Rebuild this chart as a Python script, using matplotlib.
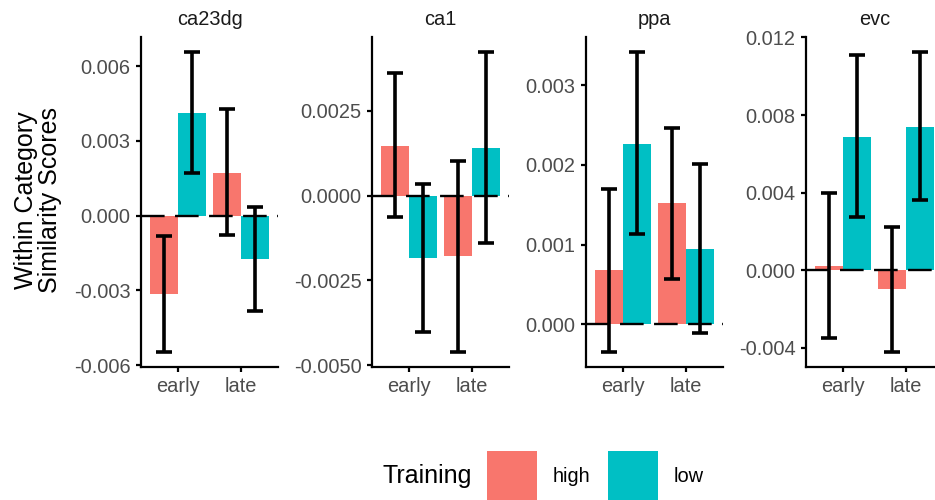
import matplotlib
matplotlib.use('Agg')
import matplotlib.pyplot as plt
from matplotlib.patches import Patch
import numpy as np

plt.rcParams['font.family'] = ['Liberation Sans', 'DejaVu Sans']
plt.rcParams['lines.scale_dashes'] = False

# Data (mean and error bar ends, per region: [early, late])
regions = ["ca23dg", "ca1", "ppa", "evc"]
phases = ["early", "late"]
groups = ["high", "low"]

high_mean = [[-0.00313, 0.00173], [0.00147, -0.00179], [0.00068, 0.00152], [0.00020, -0.00097]]
high_lo = [[-0.00547, -0.00077], [-0.00062, -0.00461], [-0.00035, 0.00057], [-0.00350, -0.00421]]
high_hi = [[-0.00080, 0.00427], [0.00363, 0.00103], [0.00170, 0.00247], [0.00397, 0.00223]]

low_mean = [[0.00413, -0.00173], [-0.00183, 0.00142], [0.00227, 0.00095], [0.00687, 0.00738]]
low_lo = [[0.00173, -0.00383], [-0.00402, -0.00140], [0.00113, -0.00011], [0.00274, 0.00360]]
low_hi = [[0.00657, 0.00033], [0.00036, 0.00424], [0.00342, 0.00201], [0.01108, 0.01125]]

y_ticks = [[-0.006, -0.003, 0, 0.003, 0.006],
           [-0.005, -0.0025, 0, 0.0025],
           [0, 0.001, 0.002, 0.003],
           [-0.004, 0, 0.004, 0.008, 0.012]]
tick_decimals = [3, 4, 3, 3]

colors = ['#F8766D', '#00BFC4']
tick_grey = '#4D4D4D'

W, H = 935, 500
fig = plt.figure(figsize=(W / 100, H / 100), dpi=100)

# panel left edges in pixels, each panel is 137 px wide
panel_left = [141, 372, 586, 806]
panel_w = 137
top_px, bottom_px = 37, 367

x = np.arange(1, len(phases) + 1)
bw = 0.45

for i, reg in enumerate(regions):
    ax = fig.add_axes([panel_left[i] / W, 1 - bottom_px / H,
                       panel_w / W, (bottom_px - top_px) / H])
    means = [high_mean[i], low_mean[i]]
    los = [high_lo[i], low_lo[i]]
    his = [high_hi[i], low_hi[i]]
    for g in range(2):
        xpos = x + (g - 0.5) * bw
        m = np.array(means[g])
        ax.bar(xpos, m, width=bw, color=colors[g], zorder=2, linewidth=0)
        ax.errorbar(xpos, m, yerr=[m - np.array(los[g]), np.array(his[g]) - m],
                    fmt='none', ecolor='black', elinewidth=2.6, capsize=5.5,
                    capthick=2.6, zorder=4)
    ax.axhline(0, color='black', linewidth=1.7, dashes=(17, 7.5), zorder=3)

    # ggplot style 5% expansion of the data range
    lo_all = min(min(high_lo[i]), min(low_lo[i]), min(high_mean[i]), min(low_mean[i]), 0)
    hi_all = max(max(high_hi[i]), max(low_hi[i]), max(high_mean[i]), max(low_mean[i]), 0)
    pad = (hi_all - lo_all) * 0.05
    ax.set_ylim(lo_all - pad, hi_all + pad)
    ax.set_xlim(0.4, len(phases) + 0.6)

    ax.set_yticks(y_ticks[i])
    ax.set_yticklabels([f"{v:.{tick_decimals[i]}f}" for v in y_ticks[i]])
    ax.set_xticks(x)
    ax.set_xticklabels(phases)

    for s in ['top', 'right']:
        ax.spines[s].set_visible(False)
    for s in ['left', 'bottom']:
        ax.spines[s].set_linewidth(1.6)
    ax.tick_params(length=3.8, width=1.6, pad=3.6, labelsize=14.4,
                   labelcolor=tick_grey, color='black')
    ax.text(0.5, 1 + 18 / (bottom_px - top_px), reg, transform=ax.transAxes,
            ha='center', va='center', fontsize=14.4, color='#1A1A1A')

fig.text(38 / W, 1 - 200 / H, "Within Category\nSimilarity Scores", rotation=90,
         ha='center', va='center', fontsize=18, multialignment='center',
         linespacing=1.05)

# legend at the bottom
fig.text(427 / W, 1 - 476 / H, "Training", ha='center', va='center', fontsize=18)
handles = [Patch(facecolor=c, edgecolor='none') for c in colors]
fig.legend(handles, groups, loc='center left', bbox_to_anchor=(487 / W, 24 / H),
           ncol=2, frameon=False, fontsize=14.4, handlelength=2.5, handleheight=3.47,
           handletextpad=0.8, columnspacing=0.85, borderpad=0, borderaxespad=0)

fig.savefig('out.png', dpi=100, facecolor='white')
